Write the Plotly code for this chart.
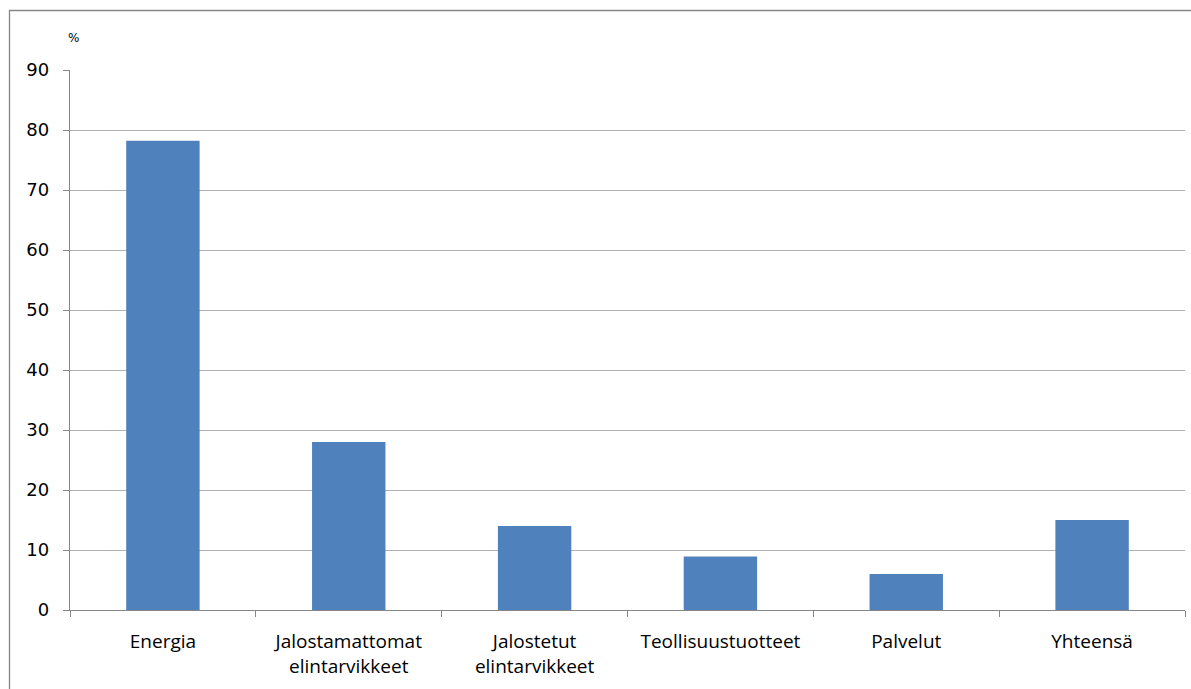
import plotly.graph_objects as go

categories = ["Energia", "Jalostamattomat<br>elintarvikkeet", "Jalostetut<br>elintarvikkeet",
              "Teollisuustuotteet", "Palvelut", "Yhteensä"]
values = [78.2, 28.0, 14.0, 8.9, 6.0, 15.0]
y_ticks = list(range(0, 91, 10))

W, H = 1191, 689
L, R, T, B = 70, 6, 70, 79
pw, ph = W - L - R, H - T - B

fig = go.Figure(go.Bar(
    x=categories, y=values, marker_color="#4f81bd",
    marker_line_width=0, width=0.395,
))

fig.update_layout(
    width=W, height=H,
    margin=dict(l=L, r=R, t=T, b=B, pad=0),
    paper_bgcolor="white", plot_bgcolor="white",
    showlegend=False,
    font=dict(family="Open Sans, Liberation Sans, sans-serif", color="#000000"),
)
fig.update_xaxes(
    type="category", showline=True, linecolor="#868686", linewidth=1.3,
    ticks="outside", tickson="boundaries", ticklen=6, tickcolor="#868686",
    tickfont=dict(size=19), showgrid=False, ticklabelstandoff=14,
)
fig.update_yaxes(
    range=[0, 90], tickvals=y_ticks, showline=True, linecolor="#868686", linewidth=1.3,
    ticks="outside", ticklen=6, tickcolor="#868686",
    gridcolor="#b0b0b0", gridwidth=1, zeroline=False,
    tickfont=dict(family="DejaVu Sans, sans-serif", size=18), ticklabelstandoff=10,
)
fig.add_annotation(text="%", xref="paper", yref="paper", x=(73 - L) / pw, y=(610 - 38) / ph,
                   showarrow=False, font=dict(family="DejaVu Sans", size=12), xanchor="center", yanchor="middle")
# outer frame
fig.add_shape(type="rect", xref="paper", yref="paper",
              x0=(9.5 - L) / pw, x1=(W + 5 - L) / pw, y0=(610 - H - 5) / ph, y1=(610 - 10.5) / ph,
              line=dict(color="#868686", width=1.3), layer="below")
fig.write_html("out.html")
